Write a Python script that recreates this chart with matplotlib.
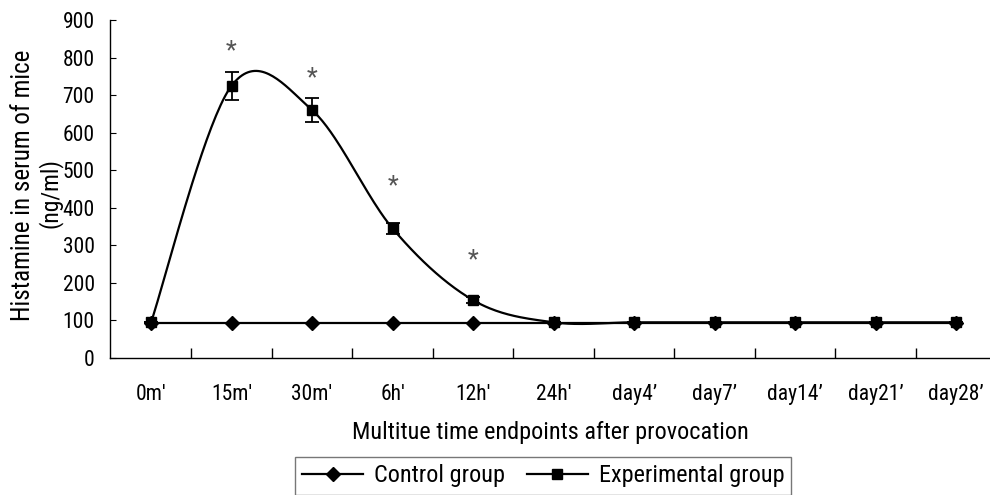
import numpy as np
import matplotlib
matplotlib.use("Agg")
import matplotlib.pyplot as plt
from matplotlib.lines import Line2D

categories = ["0m'", "15m'", "30m'", "6h'", "12h'", "24h'", "day4\u2019", "day7\u2019", "day14\u2019", "day21\u2019", "day28\u2019"]
control = [94, 94, 94, 94, 94, 94, 94, 94, 94, 94, 94]
experimental = [95, 725, 660, 345, 154, 95, 95, 95, 95, 95, 95]
exp_err = [0, 37, 31, 15, 8, 0, 0, 0, 0, 0, 0]
sig_idx = [1, 2, 3, 4]
sig_y = [832, 760, 473, 274]

plt.rcParams['font.family'] = ['Liberation Sans Narrow', 'Roboto Condensed', 'DejaVu Sans Condensed',
                               'Liberation Sans', 'DejaVu Sans']

def smooth(xs, ys, n=40):
    xs = np.asarray(xs, float); ys = np.asarray(ys, float)
    px = np.concatenate([[xs[0]], xs, [xs[-1]]])
    py = np.concatenate([[ys[0]], ys, [ys[-1]]])
    ox, oy = [], []
    t = np.linspace(0, 1, n)
    for i in range(1, len(px) - 2):
        p0 = np.array([px[i], py[i]]); p3 = np.array([px[i + 1], py[i + 1]])
        c1 = p0 + (np.array([px[i + 1], py[i + 1]]) - np.array([px[i - 1], py[i - 1]])) / 6
        c2 = p3 - (np.array([px[i + 2], py[i + 2]]) - np.array([px[i], py[i]])) / 6
        b = ((1 - t) ** 3)[:, None] * p0 + (3 * (1 - t) ** 2 * t)[:, None] * c1 + \
            (3 * (1 - t) * t ** 2)[:, None] * c2 + (t ** 3)[:, None] * p3
        ox.extend(b[:, 0]); oy.extend(b[:, 1])
    return np.array(ox), np.array(oy)

fig = plt.figure(figsize=(9.9, 4.95), dpi=100)
ax = fig.add_axes([110 / 990, 1 - 358 / 495, 880 / 990, 338 / 495])

x = np.arange(len(categories))
ax.plot(x, control, color='black', lw=1.6, marker='D', ms=7, mfc='black', mec='black', zorder=3)
sx, sy = smooth(x, experimental)
ax.plot(sx, sy, color='black', lw=1.6, zorder=3)
ax.errorbar(x, experimental, yerr=exp_err, fmt='none', ecolor='black', elinewidth=1.3, capsize=4.7, capthick=1.3, zorder=4)
ax.plot(x, experimental, ls='none', marker='s', ms=7.5, mfc='black', mec='black', zorder=5)

for i, yv in zip(sig_idx, sig_y):
    ax.annotate('*', (x[i], yv), xytext=(0, -4), textcoords='offset points',
                ha='center', va='center', fontsize=18, color='#555555')

ax.set_xlim(-0.51, 10.42)
ax.set_ylim(0, 900)
ax.set_yticks(np.arange(0, 901, 100))
ax.set_xticks(x)
ax.set_xticklabels(categories)
ax.set_xticks(np.arange(0.5, 10.0, 1.0), minor=True)
ax.tick_params(axis='x', which='major', length=0, pad=19, labelsize=15.5)
ax.tick_params(axis='x', which='minor', length=7, direction='in', width=1)
ax.tick_params(axis='y', length=4, direction='in', labelsize=15.5, pad=11)
for s in ['top', 'right']:
    ax.spines[s].set_visible(False)
for s in ['left', 'bottom']:
    ax.spines[s].set_linewidth(1.0)

ax.set_xlabel('Multitue time endpoints after provocation', fontsize=17.5, labelpad=11)
fig.text(23 / 990, 1 - 185 / 495, 'Histamine in serum of mice', rotation=90, ha='center', va='center', fontsize=18)
fig.text(50 / 990, 1 - 193 / 495, '(ng/ml)', rotation=90, ha='center', va='center', fontsize=17)

handles = [Line2D([], [], color='black', lw=1.6, marker='D', ms=7),
           Line2D([], [], color='black', lw=1.6, marker='s', ms=7)]
leg = fig.legend(handles, ['Control group', 'Experimental group'], loc='upper left',
                 bbox_to_anchor=(295 / 990, 1 - 457 / 495), borderaxespad=0, ncol=2, frameon=True,
                 fancybox=False, edgecolor='#555555', fontsize=17.5, handlelength=2.5, handletextpad=0.45,
                 columnspacing=0.9, borderpad=0.3)
leg.get_frame().set_linewidth(1.0)

fig.savefig('out.png', dpi=100)
